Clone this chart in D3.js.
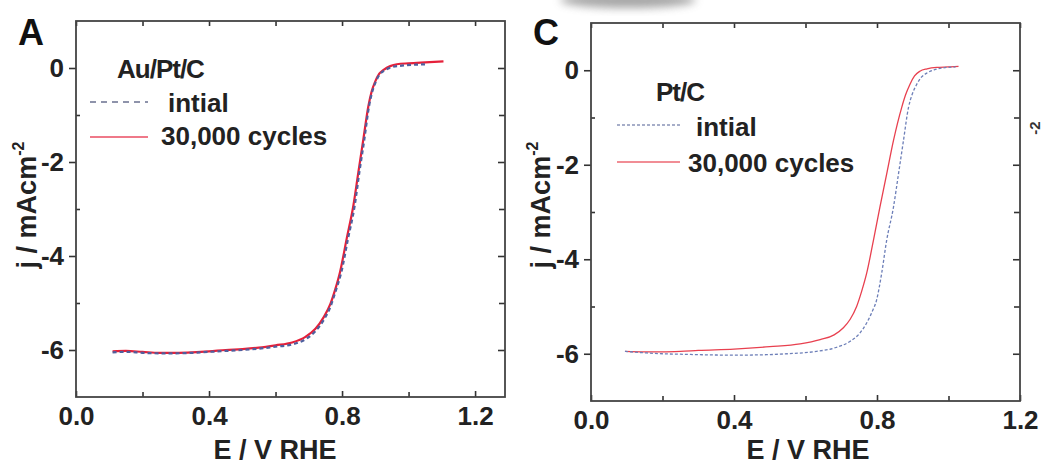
<!DOCTYPE html>
<html>
<head>
<meta charset="utf-8">
<script src="https://cdn.jsdelivr.net/npm/d3@7"></script>
<style>
  body { margin: 0; background: #fff; }
  svg { display: block; font-family: "Liberation Sans", Arial, sans-serif; }
</style>
</head>
<body>
<div id="chart"></div>
<script>
// tick values (E / V RHE and j / mAcm-2)
const xMajor = [0, 0.4, 0.8, 1.2];
const xMinor = [0.2, 0.6, 1.0];
const yMajor = [0, -2, -4, -6];
const yMinor = [-1, -3, -5];

// Au/Pt/C, [E, j]
const auPtInitial = [[0.11,-6.05],[0.15,-6.04],[0.2,-6.06],[0.25,-6.07],[0.3,-6.07],[0.35,-6.06],[0.4,-6.04],[0.45,-6.02],[0.5,-6.0],[0.55,-5.97],[0.6,-5.93],[0.65,-5.88],[0.69,-5.77],[0.72,-5.6],[0.745,-5.36],[0.765,-5.08],[0.782,-4.72],[0.798,-4.34],[0.818,-3.63],[0.838,-2.93],[0.852,-2.22],[0.867,-1.52],[0.881,-0.82],[0.891,-0.5],[0.901,-0.3],[0.914,-0.13],[0.928,-0.05],[0.95,0.02],[0.98,0.05],[1.02,0.07],[1.055,0.08]];
const auPtCycled = [[0.11,-6.03],[0.15,-6.02],[0.2,-6.04],[0.25,-6.06],[0.3,-6.06],[0.35,-6.05],[0.4,-6.03],[0.45,-6.0],[0.5,-5.98],[0.55,-5.95],[0.6,-5.9],[0.65,-5.84],[0.69,-5.72],[0.72,-5.55],[0.745,-5.3],[0.765,-5.02],[0.78,-4.7],[0.794,-4.34],[0.814,-3.63],[0.834,-2.93],[0.849,-2.22],[0.864,-1.52],[0.879,-0.82],[0.889,-0.5],[0.899,-0.3],[0.912,-0.12],[0.925,-0.04],[0.945,0.04],[0.965,0.08],[1.0,0.1],[1.05,0.12],[1.105,0.14]];

// Pt/C, [E, j]
const ptInitial = [[0.095,-5.95],[0.15,-5.98],[0.2,-6.0],[0.25,-6.01],[0.305,-6.02],[0.4,-6.03],[0.491,-6.02],[0.55,-6.0],[0.631,-5.95],[0.68,-5.88],[0.724,-5.74],[0.75,-5.58],[0.771,-5.35],[0.787,-5.1],[0.799,-4.86],[0.813,-4.3],[0.827,-3.6],[0.846,-2.9],[0.86,-2.2],[0.874,-1.49],[0.888,-0.79],[0.898,-0.52],[0.911,-0.3],[0.925,-0.14],[0.939,-0.06],[0.96,0.01],[0.985,0.05],[1.02,0.07]];
const ptCycled = [[0.095,-5.95],[0.15,-5.96],[0.2,-5.96],[0.25,-5.95],[0.3,-5.93],[0.4,-5.9],[0.5,-5.85],[0.585,-5.79],[0.641,-5.7],[0.68,-5.6],[0.706,-5.45],[0.725,-5.27],[0.743,-5.0],[0.757,-4.68],[0.771,-4.3],[0.79,-3.6],[0.808,-2.9],[0.827,-2.2],[0.846,-1.49],[0.869,-0.79],[0.88,-0.52],[0.892,-0.3],[0.905,-0.12],[0.92,-0.02],[0.94,0.03],[0.967,0.06],[1.0,0.07],[1.028,0.08]];

const svg = d3.select('#chart').append('svg')
    .attr('width', 1045)
    .attr('height', 464);

// blurred scan smudge at the top
const defs = svg.append('defs');
defs.append('filter').attr('id', 'blur')
    .attr('x', '-50%').attr('y', '-50%').attr('width', '200%').attr('height', '200%')
    .append('feGaussianBlur').attr('stdDeviation', 4);
svg.append('ellipse')
    .attr('cx', 628).attr('cy', 0).attr('rx', 68).attr('ry', 8)
    .attr('fill', '#8a8a8a').attr('opacity', 0.75)
    .attr('filter', 'url(#blur)');

const panels = [
  {letter: 'A', name: 'Au/Pt/C', left: 76, right: 505, top: 21, bottom: 397, xMax: 1.29,
   initial: auPtInitial, cycled: auPtCycled, width: 2.2, dash: '4,3',
   blue: '#4f5f9e', red: '#e5203a', titleX: 275, yTitleX: 36,
   legend: {nameX: 117, nameY: 78, lx0: 90, lx1: 148, iy: 102, cy: 137, iTextX: 168, iTextY: 112, cTextX: 161, cTextY: 145},
   legendDash: '6,5', legendBlue: '#6a7090'},
  {letter: 'C', name: 'Pt/C', left: 591, right: 1020, top: 23, bottom: 401, xMax: 1.2,
   initial: ptInitial, cycled: ptCycled, width: 1.3, dash: '3,2',
   blue: '#6d7fb8', red: '#e8404f', titleX: 808, yTitleX: 550,
   legend: {nameX: 656, nameY: 101, lx0: 617, lx1: 680, iy: 125, cy: 162, iTextX: 696, iTextY: 136, cTextX: 688, cTextY: 172},
   legendDash: '3,2', legendBlue: '#8a94b8'}
];

panels.forEach(p => {
  const x = d3.scaleLinear().domain([0, p.xMax]).range([p.left, p.right]);
  const y = d3.scaleLinear().domain([-7, 1]).range([p.bottom, p.top]);
  const g = svg.append('g');

  // axes
  const bottomAxis = g.append('g').attr('transform', `translate(0,${p.bottom})`)
      .call(d3.axisBottom(x).tickValues(xMajor).tickSizeInner(-6).tickSizeOuter(0).tickPadding(10)
            .tickFormat(d3.format('.1f')));
  bottomAxis.selectAll('text').attr('font-size', 26).attr('font-weight', 'bold').attr('fill', '#222');
  g.append('g').attr('transform', `translate(0,${p.bottom})`)
      .call(d3.axisBottom(x).tickValues(xMinor).tickSizeInner(-5).tickSizeOuter(0).tickFormat(''));
  g.append('g').attr('transform', `translate(0,${p.top})`)
      .call(d3.axisTop(x).tickValues(xMajor.concat(xMinor)).tickSizeInner(-5).tickSizeOuter(0).tickFormat(''));

  const leftAxis = g.append('g').attr('transform', `translate(${p.left},0)`)
      .call(d3.axisLeft(y).tickValues(yMajor).tickSizeInner(7).tickSizeOuter(0).tickPadding(5)
            .tickFormat(d => String(d)));
  leftAxis.selectAll('text').attr('font-size', 26).attr('font-weight', 'bold').attr('fill', '#222');
  g.append('g').attr('transform', `translate(${p.left},0)`)
      .call(d3.axisLeft(y).tickValues(yMinor).tickSizeInner(-4).tickSizeOuter(0).tickFormat(''));
  g.append('g').attr('transform', `translate(${p.right},0)`)
      .call(d3.axisRight(y).tickValues(yMajor).tickSizeInner(-7).tickSizeOuter(0).tickFormat(''));
  g.append('g').attr('transform', `translate(${p.right},0)`)
      .call(d3.axisRight(y).tickValues(yMinor).tickSizeInner(-6).tickSizeOuter(0).tickFormat(''));

  g.selectAll('.domain').remove();
  g.selectAll('.tick line').attr('stroke', '#333').attr('stroke-width', 1.6);

  g.append('rect')
      .attr('x', p.left).attr('y', p.top)
      .attr('width', p.right - p.left).attr('height', p.bottom - p.top)
      .attr('fill', 'none').attr('stroke', '#444').attr('stroke-width', 1.8);

  // curves
  const line = d3.line().x(d => x(d[0])).y(d => y(d[1])).curve(d3.curveMonotoneX);
  g.append('path').datum(p.cycled).attr('d', line)
      .attr('fill', 'none').attr('stroke', p.red).attr('stroke-width', p.width);
  g.append('path').datum(p.initial).attr('d', line)
      .attr('fill', 'none').attr('stroke', p.blue).attr('stroke-width', p.width)
      .attr('stroke-dasharray', p.dash);

  // legend
  const L = p.legend;
  g.append('text').attr('x', L.nameX).attr('y', L.nameY).text(p.name)
      .attr('font-size', 26).attr('font-weight', 'bold').attr('letter-spacing', -1).attr('fill', '#222');
  g.append('line').attr('x1', L.lx0).attr('x2', L.lx1).attr('y1', L.iy).attr('y2', L.iy)
      .attr('stroke', p.legendBlue).attr('stroke-width', 1.5).attr('stroke-dasharray', p.legendDash);
  g.append('text').attr('x', L.iTextX).attr('y', L.iTextY).text('intial')
      .attr('font-size', 26).attr('font-weight', 'bold').attr('fill', '#222');
  g.append('line').attr('x1', L.lx0).attr('x2', L.lx1).attr('y1', L.cy).attr('y2', L.cy)
      .attr('stroke', p.red).attr('stroke-width', 1.6).attr('opacity', 0.8);
  g.append('text').attr('x', L.cTextX).attr('y', L.cTextY).text('30,000 cycles')
      .attr('font-size', 26).attr('font-weight', 'bold').attr('fill', '#222');

  // titles
  g.append('text').attr('x', p.titleX).attr('y', 459).attr('text-anchor', 'middle')
      .attr('font-size', 27).attr('font-weight', 'bold').attr('fill', '#222')
      .text('E / V RHE');
  const yt = g.append('text')
      .attr('transform', `translate(${p.yTitleX},205) rotate(-90)`)
      .attr('text-anchor', 'middle')
      .attr('font-size', 27).attr('font-weight', 'bold').attr('fill', '#222');
  yt.append('tspan').text('j / mAcm');
  yt.append('tspan').attr('dy', -12).attr('font-size', 16).text('-2');

  g.append('text').attr('x', p.left - 58).attr('y', 45)
      .attr('font-size', 36).attr('font-weight', 'bold').attr('fill', '#111')
      .text(p.letter);
});

// edge of the next panel's axis title
svg.append('text')
    .attr('transform', 'translate(1040,128) rotate(-90)')
    .attr('text-anchor', 'middle')
    .attr('font-size', 15).attr('font-weight', 'bold').attr('fill', '#333')
    .text('-2');
</script>
</body>
</html>
